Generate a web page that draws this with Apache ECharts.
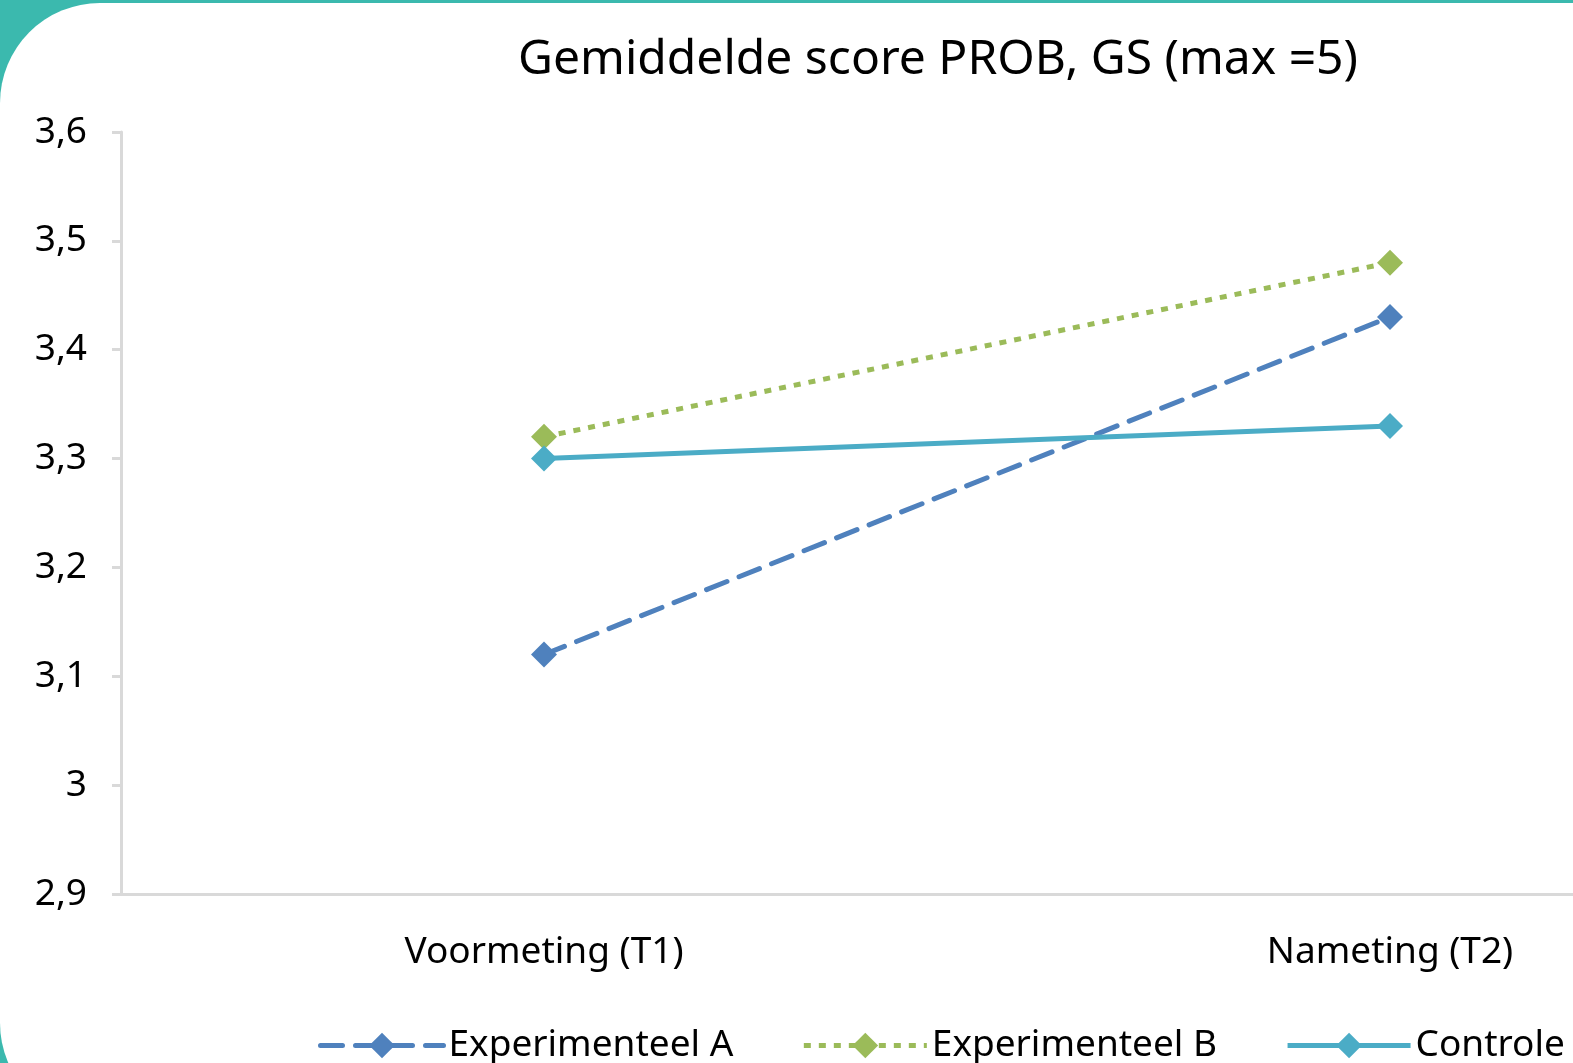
<!DOCTYPE html>
<html>
<head>
<meta charset="utf-8">
<script src="https://cdn.jsdelivr.net/npm/echarts@6/dist/echarts.min.js"></script>
<style>
  html, body { margin: 0; padding: 0; background: #3bb9ae; overflow: hidden; }
  /* breder dan het venster: de grafiek is rechts afgesneden */
  #chart { width: 1813px; height: 1063px; }
</style>
</head>
<body>
<div id="chart"></div>
<script>
// categories en waarden
var categories = ['Voormeting (T1)', 'Nameting (T2)'];
var expA = [3.12, 3.43];
var expB = [3.32, 3.48];
var controle = [3.30, 3.33];
var seriesNames = ['Experimenteel A', 'Experimenteel B', 'Controle'];

var font = 'Noto Sans';
var chart = echarts.init(document.getElementById('chart'));

function lijn(name, data, color, type, cap) {
  return {
    name: name,
    type: 'line',
    data: data,
    symbol: 'diamond',
    symbolSize: 26,
    itemStyle: { color: color },
    lineStyle: { color: color, width: 5, type: type, cap: cap },
    z: 3
  };
}

chart.setOption({
  backgroundColor: '#3bb9ae',
  animation: false,
  graphic: [{
    type: 'rect',
    shape: { x: 0, y: 3, width: 1900, height: 1120, r: 100 },
    style: { fill: '#ffffff' },
    z: -10
  }],
  title: {
    text: 'Gemiddelde score PROB, GS (max =5)',
    left: 933,
    top: 31,
    textAlign: 'center',
    textStyle: { fontFamily: font, fontSize: 48, fontWeight: 'normal', color: '#000' }
  },
  legend: {
    data: seriesNames,
    left: 313,
    top: 1022,
    itemWidth: 123,
    itemHeight: 32,
    itemGap: 68,
    lineStyle: { width: 5 },
    textStyle: { fontFamily: font, fontSize: 37, color: '#000', padding: [0, 0, 0, 0] }
  },
  grid: { left: 121, right: 0, top: 132, bottom: 169 },
  xAxis: {
    type: 'category',
    data: categories,
    boundaryGap: true,
    axisLine: { lineStyle: { color: '#d9d9d9', width: 3 } },
    axisTick: { show: false },
    axisLabel: { fontFamily: font, fontSize: 37, color: '#000', margin: 40 }
  },
  yAxis: {
    type: 'value',
    min: 2.9,
    max: 3.6,
    interval: 0.1,
    axisLine: { show: true, lineStyle: { color: '#d9d9d9', width: 3 } },
    axisTick: { show: true, length: 9, lineStyle: { color: '#d9d9d9', width: 3 } },
    splitLine: { show: false },
    axisLabel: {
      fontFamily: font, fontSize: 37, color: '#000', margin: 34,
      formatter: function (v) { return String(Math.round(v * 10) / 10).replace('.', ','); }
    }
  },
  series: [
    lijn(seriesNames[0], expA, '#4f81bd', [22, 13], 'round'),
    lijn(seriesNames[1], expB, '#9bbb59', [7, 8], 'butt'),
    lijn(seriesNames[2], controle, '#4bacc6', 'solid', 'butt')
  ]
});
</script>
</body>
</html>
